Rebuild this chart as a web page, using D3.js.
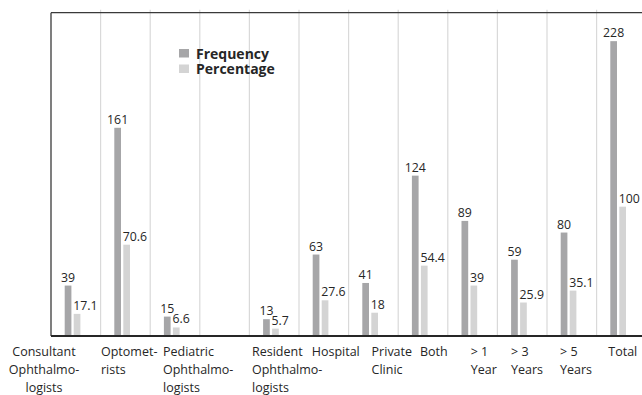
<!DOCTYPE html>
<html lang="en">
<head>
    <meta charset="UTF-8">
    <script src="https://d3js.org/d3.v7.min.js"></script>
    <title>Frequency and Percentage</title>
    <style>
        body { margin: 0; background: #fff; }
        svg { display: block; font-family: "Open Sans", sans-serif; }
    </style>
</head>
<body>
    <div id="container"></div>
</body>
<script>
    // data
    var categories = [
        ["Consultant", "Ophthalmo-", "logists"],
        ["Optomet-", "rists"],
        ["Pediatric", "Ophthalmo-", "logists"],
        [""],
        ["Resident", "Ophthalmo-", "logists"],
        ["Hospital"],
        ["Private", "Clinic"],
        ["Both"],
        ["> 1", "Year"],
        ["> 3", "Years"],
        ["> 5", "Years"],
        ["Total"]
    ];
    var frequency = [39, 161, 15, null, 13, 63, 41, 124, 89, 59, 80, 228];
    var percentage = [17.1, 70.6, 6.6, null, 5.7, 27.6, 18, 54.4, 39, 25.9, 35.1, 100];
    var seriesNames = ["Frequency", "Percentage"];

    // layout
    var width = 642, height = 395;
    var plot = {left: 51, top: 12.7, bottom: 336, step: 49.6};
    var colors = ["#a6a6a8", "#d4d4d4"];
    // label offsets from band start (the original labels sit unevenly)
    var labelDx = [-7, 0.4, 12.8, 0, 2.6, 12.7, 23, 21.8, 22.9, 13.6, 13, 11.7];

    var svg = d3.select("#container").append("svg")
        .attr("width", width).attr("height", height);

    var idx = d3.range(categories.length);
    var x = d3.scaleBand()
        .domain(idx)
        .range([plot.left, plot.left + plot.step * categories.length])
        .padding(0);
    var y = d3.scaleLinear()
        .domain([0, 250])
        .range([plot.bottom, plot.top]);

    var barW = 6.7, barOff = 13.7, barGap = 2.3;

    // vertical gridlines at band boundaries
    svg.append("g").selectAll("line")
        .data(idx.slice(1))
        .join("line")
        .attr("x1", d => x(d)).attr("x2", d => x(d))
        .attr("y1", plot.top - 3).attr("y2", plot.bottom)
        .attr("stroke", "#d9d9d9").attr("stroke-width", 1.2);

    // frame: top, left
    svg.append("line")
        .attr("x1", plot.left).attr("x2", width)
        .attr("y1", plot.top).attr("y2", plot.top)
        .attr("stroke", "#3a3a3a").attr("stroke-width", 1.3);
    svg.append("line")
        .attr("x1", plot.left).attr("x2", plot.left)
        .attr("y1", plot.top).attr("y2", plot.bottom)
        .attr("stroke", "#3a3a3a").attr("stroke-width", 1.3);

    // bars + value labels
    var series = [frequency, percentage];
    series.forEach(function(vals, s) {
        var pts = idx.filter(i => vals[i] != null);
        var bx = i => x(i) + barOff + s * (barW + barGap);
        svg.append("g").selectAll("rect")
            .data(pts)
            .join("rect")
            .attr("x", bx)
            .attr("y", i => y(vals[i]))
            .attr("width", barW)
            .attr("height", i => y(0) - y(vals[i]))
            .attr("fill", colors[s]);

        svg.append("g").selectAll("text")
            .data(pts)
            .join("text")
            .attr("x", i => s === 0 ? bx(i) + barW / 2 : bx(i) - 0.5)
            .attr("y", i => y(vals[i]) - 4)
            .attr("text-anchor", s === 0 ? "middle" : "start")
            .attr("font-size", 12.3)
            .attr("fill", "#262626")
            .text(i => vals[i]);
    });

    // baseline
    svg.append("line")
        .attr("x1", plot.left).attr("x2", width)
        .attr("y1", y(0)).attr("y2", y(0))
        .attr("stroke", "#262626").attr("stroke-width", 2);

    // category labels
    var lab = svg.append("g").selectAll("text")
        .data(idx)
        .join("text")
        .attr("font-size", 12.5)
        .attr("fill", "#262626")
        .attr("text-anchor", i => i === 0 ? "middle" : "start");
    lab.selectAll("tspan")
        .data(i => categories[i].map(t => ({t: t, i: i})))
        .join("tspan")
        .attr("x", d => d.i === 0 ? plot.left - 7 : x(d.i) + labelDx[d.i])
        .attr("y", (d, k) => 355.5 + k * 18)
        .text(d => d.t);

    // legend
    var legend = svg.append("g").attr("transform", "translate(179,49)");
    seriesNames.forEach(function(name, s) {
        legend.append("rect")
            .attr("x", 0).attr("y", s * 15.5)
            .attr("width", 10).attr("height", 8.5)
            .attr("fill", colors[s]);
        legend.append("text")
            .attr("x", 17).attr("y", s * 15.5 + 9.5)
            .attr("font-size", 14).attr("font-weight", "bold")
            .attr("fill", "#262626")
            .text(name);
    });
</script>
</html>
